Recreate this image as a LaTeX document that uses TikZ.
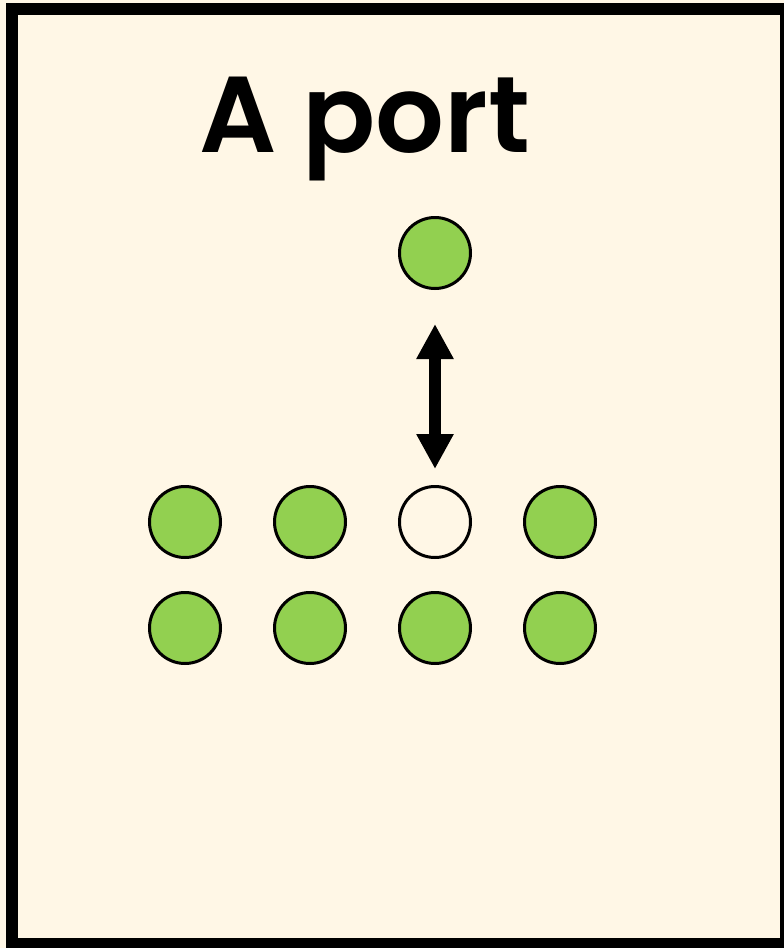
\documentclass[tikz,border=0pt]{standalone}
\usepackage{fontspec}
\setmainfont{Poppins}[BoldFont={Poppins SemiBold}]
\usetikzlibrary{arrows.meta}
\definecolor{paper}{HTML}{FFF7E6}
\definecolor{leaf}{HTML}{92D050}
\tikzset{
  ball/.style={circle,draw=black,line width=3pt,minimum size=71pt,inner sep=0pt,fill=leaf},
  hole/.style={ball,fill=paper},
  swap/.style={line width=12pt,{Triangle[width=35pt,length=35pt]}-{Triangle[width=35pt,length=35pt]}}
}
\begin{document}
\begin{tikzpicture}[x=1pt,y=-1pt]
\useasboundingbox (0,0) rectangle (784,948);
\fill[paper] (0,0) rectangle (784,948);
\draw[line width=12pt] (12,9) rectangle (786,944);
\node[anchor=base,font=\bfseries\fontsize{108}{108}\selectfont] (title) at (365,152) {A port};
\node[ball] (top) at (435,253) {};
\foreach \x/\n in {185/1,310/2,560/4}{
  \node[ball] (a\n) at (\x,522) {};
}
\node[hole] (a3) at (435,522) {};
\foreach \x/\n in {185/1,310/2,435/3,560/4}{
  \node[ball] (b\n) at (\x,628) {};
}
\draw[swap,shorten <=34pt,shorten >=16pt] (top.south) -- (a3.north);
\end{tikzpicture}
\end{document}
